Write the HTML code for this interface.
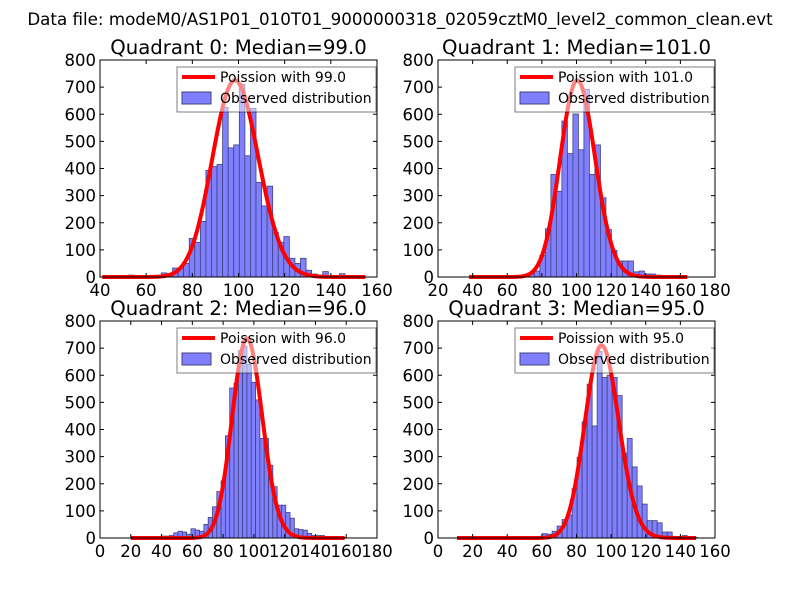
<!DOCTYPE html>
<html><head><meta charset="utf-8"><style>
body{margin:0;background:#fff}
svg{display:block;font-family:"DejaVu Sans","Liberation Sans",sans-serif}
</style></head><body>
<svg id="chart" width="800" height="600" xmlns="http://www.w3.org/2000/svg">
<rect width="800" height="600" fill="#fff"/>
<text x="400" y="25" font-size="16.7" text-anchor="middle">Data file: modeM0/AS1P01_010T01_9000000318_02059cztM0_level2_common_clean.evt</text>
</svg>
<script>
const panelTitles = ["Quadrant 0: Median=99.0","Quadrant 1: Median=101.0","Quadrant 2: Median=96.0","Quadrant 3: Median=95.0"];
const medians = [99.0, 101.0, 96.0, 95.0];
const binStart = [40.1, 37.5, 19.9, 11.0];
const binWidth = [2.41, 3.18, 2.8, 2.89];
const curvePeak = [725, 725, 735, 710];
const xMin = [40, 20, 0, 0];
const xMax = [160, 180, 180, 160];
const xTicks = [[40,60,80,100,120,140,160],[20,40,60,80,100,120,140,160,180],[0,20,40,60,80,100,120,140,160,180],[0,20,40,60,80,100,120,140,160]];
const yTicks = [0,100,200,300,400,500,600,700,800];
const counts0 = [0,0,0,0,0,7,0,3,3,5,5,15,10,33,33,50,142,128,205,393,407,415,625,476,487,710,447,622,349,262,335,165,128,149,69,50,69,25,11,5,20,5,0,12,3,0,0,0];
const counts1 = [0,2,0,0,0,0,3,3,3,5,5,11,22,80,178,378,316,575,455,601,469,692,378,487,292,175,98,59,59,59,19,22,11,11,7,3,2,2,0,0];
const counts2 = [0,0,0,2,2,3,5,7,7,9,19,25,22,14,34,29,25,50,76,115,171,211,377,553,571,691,707,640,574,509,367,367,268,189,121,121,94,73,34,31,29,17,9,9,9,3,2,2,0,2];
const counts3 = [0,0,0,0,0,0,0,0,0,0,0,0,0,0,0,5,0,16,14,25,44,68,85,182,298,428,567,413,688,592,600,592,525,313,367,262,192,125,64,64,56,22,22,5,0,9,0,2];
const allCounts = [counts0, counts1, counts2, counts3];

const NS = "http://www.w3.org/2000/svg";
const svg = document.getElementById('chart');
function mk(tag, attrs, parent){ const e=document.createElementNS(NS,tag); for(const k in attrs) e.setAttribute(k,attrs[k]); (parent||svg).appendChild(e); return e; }
function lgamma(x){ return (x-0.5)*Math.log(x)-x+0.5*Math.log(2*Math.PI)+1/(12*x)-1/(360*x*x*x); }
function logPois(k,l){ return k*Math.log(l)-l-lgamma(k+1); }

const boxes = [[100,60,377,277],[438,60,715,277],[100,321,377,538],[438,321,715,538]];
for(let p=0;p<4;p++){
  const [L,T,R,B]=boxes[p];
  const g=mk('g',{});
  
  
  const xs=v=>L+(v-xMin[p])/(xMax[p]-xMin[p])*(R-L);
  const ys=v=>B-v/800*(B-T);
  const t=mk('text',{x:(L+R)/2,y:T-6,'font-size':19.7,'text-anchor':'middle'},g);
  t.textContent=panelTitles[p];
  
  
  const cs=allCounts[p];
  for(let i=0;i<cs.length;i++){
    if(cs[i]<=0) continue;
    const x0=xs(binStart[p]+i*binWidth[p]), x1=xs(binStart[p]+(i+1)*binWidth[p]);
    const r=mk('rect',{x:x0,y:ys(cs[i]),width:x1-x0,height:ys(0)-ys(cs[i]),fill:'#8080ff','stroke':'#40407f','stroke-width':0.8},g);
    
    
  }
  const lam=medians[p], mode=Math.floor(lam);
  const lo=binStart[p], hi=binStart[p]+cs.length*binWidth[p];
  const lpm=logPois(mode,lam);
  let d='';
  for(let k=Math.ceil(lo);k<=hi;k++){
    const v=curvePeak[p]*Math.exp(logPois(k,lam)-lpm);
    d+=(d?'L':'M')+xs(k).toFixed(2)+','+ys(v).toFixed(2);
  }
  const c=mk('path',{d:d,fill:'none',stroke:'#ff0000','stroke-width':4,'stroke-linejoin':'round'},g);
  
  
  mk('rect',{x:L,y:T,width:R-L,height:B-T,fill:'none',stroke:'#000','stroke-width':1},g);
  for(const v of yTicks){
    const y=ys(v);
    mk('line',{x1:L,x2:L+4,y1:y,y2:y,stroke:'#000'},g);
    mk('line',{x1:R,x2:R-4,y1:y,y2:y,stroke:'#000'},g);
    const tl=mk('text',{x:L-4,y:y+6,'font-size':16.5,'text-anchor':'end'},g);
    tl.textContent=v;
    
    
  }
  for(const v of xTicks[p]){
    const x=xs(v);
    mk('line',{x1:x,x2:x,y1:B,y2:B-4,stroke:'#000'},g);
    mk('line',{x1:x,x2:x,y1:T,y2:T+4,stroke:'#000'},g);
    const tl=mk('text',{x:x,y:B+19,'font-size':16.5,'text-anchor':'middle'},g);
    tl.textContent=v;
    
    
  }
  const lg=mk('g',{},g);
  
  
  mk('rect',{x:R-200,y:T+7,width:199,height:45,fill:'#fff','fill-opacity':0.5,stroke:'#000','stroke-opacity':0.5,'stroke-width':1},lg);
  mk('line',{x1:R-195,x2:R-162,y1:T+17,y2:T+17,stroke:'#ff0000','stroke-width':4},lg);
  const lt1=mk('text',{x:R-157,y:T+22,'font-size':14},lg);
  lt1.textContent='Poission with '+medians[p].toFixed(1);
  
  
  mk('rect',{x:R-195,y:T+32,width:29,height:12,fill:'#8080ff',stroke:'#40407f'},lg);
  const lt2=mk('text',{x:R-157,y:T+43,'font-size':14},lg);
  lt2.textContent='Observed distribution';
  
  
}
</script>
</body></html>
